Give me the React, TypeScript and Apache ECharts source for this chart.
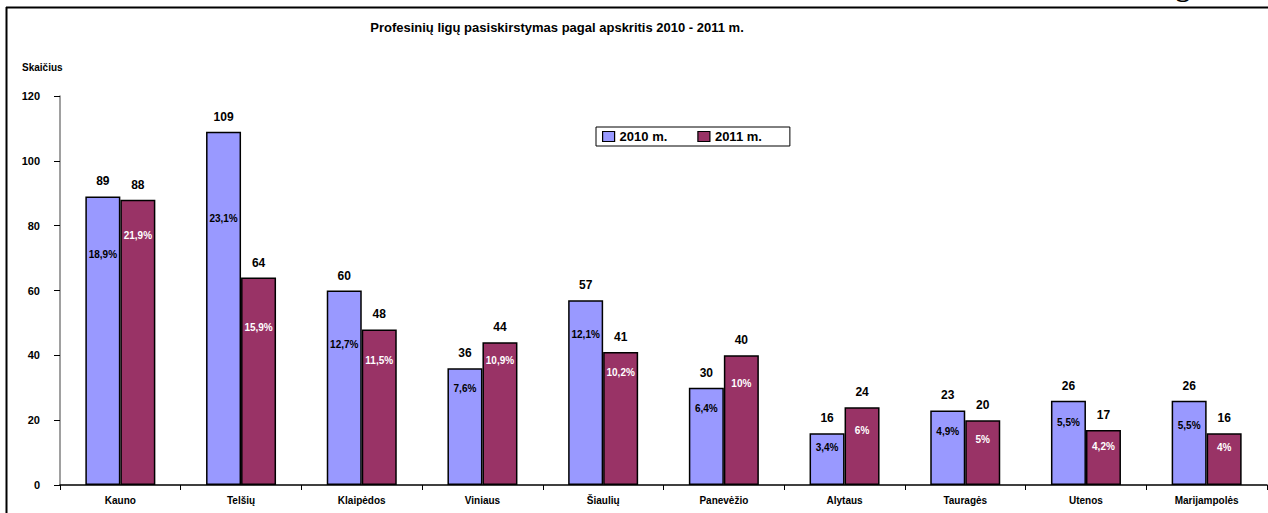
import React, { useEffect, useRef } from "react";
import * as echarts from "echarts";

const categories = ["Kauno", "Telšių", "Klaipėdos", "Viniaus", "Šiaulių", "Panevėžio", "Alytaus", "Tauragės", "Utenos", "Marijampolės"];
const values2010 = [89, 109, 60, 36, 57, 30, 16, 23, 26, 26];
const values2011 = [88, 64, 48, 44, 41, 40, 24, 20, 17, 16];
const pct2010 = ["18,9%", "23,1%", "12,7%", "7,6%", "12,1%", "6,4%", "3,4%", "4,9%", "5,5%", "5,5%"];
const pct2011 = ["21,9%", "15,9%", "11,5%", "10,9%", "10,2%", "10%", "6%", "5%", "4,2%", "4%"];
const yTicks = [0, 20, 40, 60, 80, 100, 120];
const titleText = "Profesinių ligų pasiskirstymas pagal apskritis 2010 - 2011 m.";
const yAxisTitle = "Skaičius";
const seriesNames = ["2010 m.", "2011 m."];

// layout: how far below each bar top the percentage label sits (px)
const pctDrop2010 = [58, 87, 54, 20, 34, 21, 14, 21, 22, 25];
const pctDrop2011 = [36, 50, 31, 18, 20, 28, 23, 19, 17, 14];

const FONT = "Arial, 'Liberation Sans', sans-serif";
const BLUE = "#9999FF";
const RED = "#993366";
const BAR_W = 35;

function pctSeries(values: number[], pcts: string[], drops: number[], side: number, color: string) {
  return {
    type: "custom",
    silent: true,
    clip: false,
    z: 10,
    data: values.map((v, i) => [i, v]),
    renderItem: (params: any, api: any) => {
      const i = params.dataIndex;
      const pt = api.coord([api.value(0), api.value(1)]);
      return {
        type: "text",
        x: pt[0] + side * (BAR_W / 2),
        y: pt[1] + drops[i],
        style: {
          text: pcts[i],
          fill: color,
          font: `bold 10px ${FONT}`,
          align: "center",
          verticalAlign: "middle",
        },
      };
    },
  };
}

export default function App() {
  const ref = useRef<HTMLDivElement>(null);
  useEffect(() => {
    if (!ref.current) return;
    const chart = echarts.init(ref.current, null, { renderer: "svg" });
    const valueLabel = {
      show: true,
      position: "top",
      distance: 9,
      color: "#000",
      fontFamily: FONT,
      fontWeight: "bold",
      fontSize: 12,
    };
    chart.setOption({
      animation: false,
      backgroundColor: "#fff",
      title: {
        text: titleText,
        left: 557,
        textAlign: "center",
        top: 21,
        padding: 0,
        textStyle: { fontFamily: FONT, fontWeight: "bold", fontSize: 13, color: "#000" },
      },
      legend: {
        data: seriesNames,
        left: 596,
        top: 127,
        orient: "horizontal",
        selectedMode: false,
        icon: "rect",
        itemWidth: 12,
        itemHeight: 10,
        itemGap: 30,
        padding: [3, 28, 3, 6],
        borderColor: "#000",
        borderWidth: 1,
        backgroundColor: "#fff",
        textStyle: { fontFamily: FONT, fontWeight: "bold", fontSize: 13, color: "#000" },
        itemStyle: { borderColor: "#000", borderWidth: 1.2 },
      },
      grid: { left: 60, right: 1, top: 96, bottom: 28, containLabel: false },
      xAxis: {
        type: "category",
        data: categories,
        axisLine: { lineStyle: { color: "#000", width: 1.5 } },
        axisTick: { show: true, length: 5, lineStyle: { color: "#000" } },
        axisLabel: { fontFamily: FONT, fontWeight: "bold", fontSize: 10, color: "#000", margin: 10, interval: 0 },
      },
      yAxis: {
        type: "value",
        min: yTicks[0],
        max: yTicks[yTicks.length - 1],
        interval: 20,
        splitLine: { show: false },
        axisLine: { show: true, lineStyle: { color: "#808080", width: 1.5 } },
        axisTick: { show: true, length: 6, lineStyle: { color: "#000" } },
        axisLabel: { fontFamily: FONT, fontWeight: "bold", fontSize: 11, color: "#000", margin: 20 },
      },
      graphic: [
        { type: "line", shape: { x1: 6.5, y1: 7, x2: 6.5, y2: 513 }, style: { stroke: "#000", lineWidth: 2 } },
        { type: "line", shape: { x1: 6, y1: 7.5, x2: 1268, y2: 7.5 }, style: { stroke: "#000", lineWidth: 2 } },
        {
          type: "text",
          x: 22,
          y: 67,
          style: { text: yAxisTitle, font: `bold 10px ${FONT}`, fill: "#000", verticalAlign: "middle" },
        },
        {
          type: "text",
          x: 1183,
          y: -14,
          style: { text: "g", font: "bold 28px 'Liberation Serif', 'DejaVu Serif', serif", fill: "#000", align: "center", verticalAlign: "middle" },
        },
      ],
      series: [
        {
          name: seriesNames[0],
          type: "bar",
          data: values2010,
          barWidth: BAR_W,
          barGap: "0%",
          itemStyle: { color: BLUE, borderColor: "#000", borderWidth: 1.5 },
          label: valueLabel,
        },
        {
          name: seriesNames[1],
          type: "bar",
          data: values2011,
          barWidth: BAR_W,
          barGap: "0%",
          itemStyle: { color: RED, borderColor: "#000", borderWidth: 1.5 },
          label: valueLabel,
        },
        pctSeries(values2010, pct2010, pctDrop2010, -1, "#000"),
        pctSeries(values2011, pct2011, pctDrop2011, 1, "#fff"),
      ],
    });
    return () => chart.dispose();
  }, []);
  return <div ref={ref} style={{ position: "absolute", left: 0, top: 0, width: 1268, height: 513 }} />;
}
